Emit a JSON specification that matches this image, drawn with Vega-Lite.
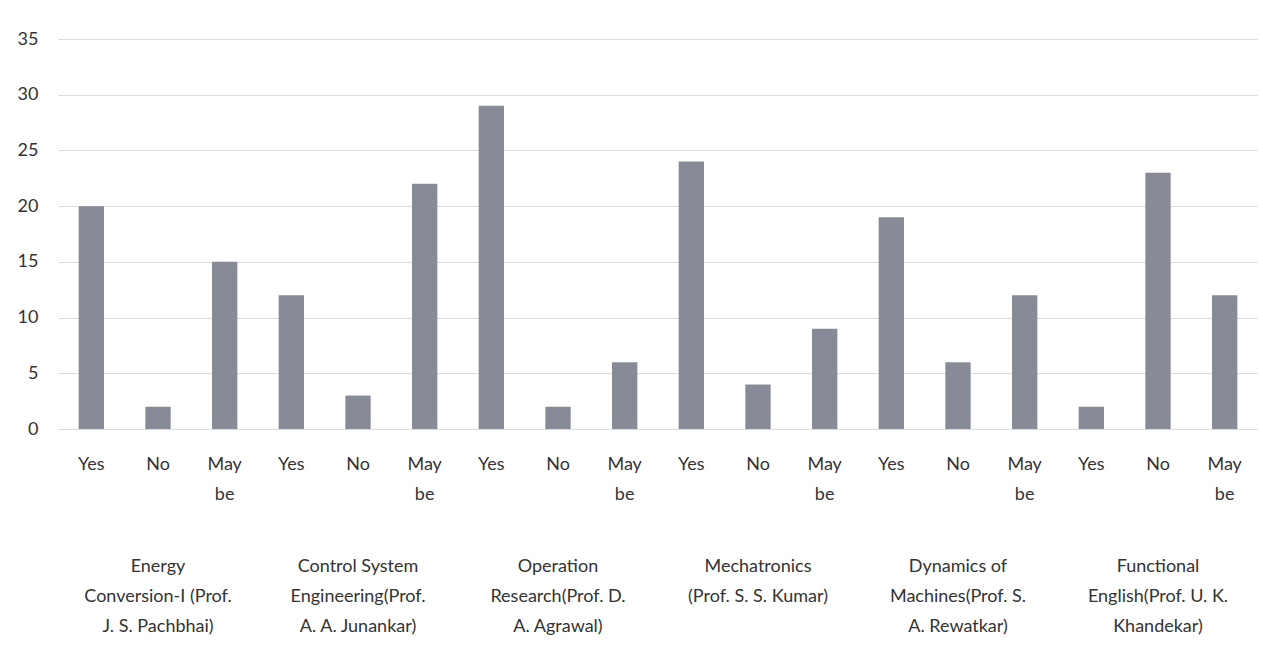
{
  "$schema": "https://vega.github.io/schema/vega-lite/v6.json",
  "padding": {"left": 0, "top": 30, "right": 0, "bottom": 0},
  "background": "#ffffff",
  "data": {
    "values": [
      {"subject": "Energy Conversion-I (Prof. J. S. Pachbhai)", "answer": "Yes", "count": 20},
      {"subject": "Energy Conversion-I (Prof. J. S. Pachbhai)", "answer": "No", "count": 2},
      {"subject": "Energy Conversion-I (Prof. J. S. Pachbhai)", "answer": "May be", "count": 15},
      {"subject": "Control System Engineering(Prof. A. A. Junankar)", "answer": "Yes", "count": 12},
      {"subject": "Control System Engineering(Prof. A. A. Junankar)", "answer": "No", "count": 3},
      {"subject": "Control System Engineering(Prof. A. A. Junankar)", "answer": "May be", "count": 22},
      {"subject": "Operation Research(Prof. D. A. Agrawal)", "answer": "Yes", "count": 29},
      {"subject": "Operation Research(Prof. D. A. Agrawal)", "answer": "No", "count": 2},
      {"subject": "Operation Research(Prof. D. A. Agrawal)", "answer": "May be", "count": 6},
      {"subject": "Mechatronics (Prof. S. S. Kumar)", "answer": "Yes", "count": 24},
      {"subject": "Mechatronics (Prof. S. S. Kumar)", "answer": "No", "count": 4},
      {"subject": "Mechatronics (Prof. S. S. Kumar)", "answer": "May be", "count": 9},
      {"subject": "Dynamics of Machines(Prof. S. A. Rewatkar)", "answer": "Yes", "count": 19},
      {"subject": "Dynamics of Machines(Prof. S. A. Rewatkar)", "answer": "No", "count": 6},
      {"subject": "Dynamics of Machines(Prof. S. A. Rewatkar)", "answer": "May be", "count": 12},
      {"subject": "Functional English(Prof. U. K. Khandekar)", "answer": "Yes", "count": 2},
      {"subject": "Functional English(Prof. U. K. Khandekar)", "answer": "No", "count": 23},
      {"subject": "Functional English(Prof. U. K. Khandekar)", "answer": "May be", "count": 12}
    ]
  },
  "facet": {
    "column": {
      "field": "subject",
      "type": "nominal",
      "sort": [
        "Energy Conversion-I (Prof. J. S. Pachbhai)",
        "Control System Engineering(Prof. A. A. Junankar)",
        "Operation Research(Prof. D. A. Agrawal)",
        "Mechatronics (Prof. S. S. Kumar)",
        "Dynamics of Machines(Prof. S. A. Rewatkar)",
        "Functional English(Prof. U. K. Khandekar)"
      ],
      "header": {
        "title": null,
        "labelOrient": "bottom",
        "labelFont": "Lato",
        "labelFontSize": 18,
        "labelColor": "#333333",
        "labelLineHeight": 30,
        "labelPadding": 55,
        "labelBaseline": "top",
        "labelExpr": "({'Energy Conversion-I (Prof. J. S. Pachbhai)': ['Energy', 'Conversion-I (Prof.', 'J. S. Pachbhai)'], 'Control System Engineering(Prof. A. A. Junankar)': ['Control System', 'Engineering(Prof.', 'A. A. Junankar)'], 'Operation Research(Prof. D. A. Agrawal)': ['Operation', 'Research(Prof. D.', 'A. Agrawal)'], 'Mechatronics (Prof. S. S. Kumar)': ['Mechatronics', '(Prof. S. S. Kumar)'], 'Dynamics of Machines(Prof. S. A. Rewatkar)': ['Dynamics of', 'Machines(Prof. S.', 'A. Rewatkar)'], 'Functional English(Prof. U. K. Khandekar)': ['Functional', 'English(Prof. U. K.', 'Khandekar)']})[datum.value]"
      }
    }
  },
  "spacing": 0,
  "resolve": {"scale": {"x": "independent"}},
  "spec": {
    "width": 200,
    "height": 390,
    "view": {"stroke": null},
    "mark": {"type": "bar", "color": "#878b98"},
    "encoding": {
      "x": {
        "field": "answer",
        "type": "nominal",
        "sort": ["Yes", "No", "May be"],
        "scale": {"paddingInner": 0.62, "paddingOuter": 0.31},
        "axis": {
          "title": null,
          "labelAngle": 0,
          "domain": false,
          "ticks": false,
          "labelFont": "Lato",
          "labelFontSize": 18,
          "labelColor": "#333333",
          "labelPadding": 26,
          "labelLineHeight": 30,
          "labelBaseline": "top",
          "labelExpr": "datum.value == 'May be' ? ['May', 'be'] : datum.value"
        }
      },
      "y": {
        "field": "count",
        "type": "quantitative",
        "scale": {"domain": [0, 35], "nice": false},
        "axis": {
          "title": null,
          "values": [0, 5, 10, 15, 20, 25, 30, 35],
          "domain": false,
          "ticks": false,
          "grid": true,
          "gridColor": "#dcdcdc",
          "gridWidth": 1,
          "labelFont": "Lato",
          "labelFontSize": 18,
          "labelColor": "#333333",
          "labelPadding": 20,
          "minExtent": 58,
          "maxExtent": 58
        }
      }
    }
  }
}
